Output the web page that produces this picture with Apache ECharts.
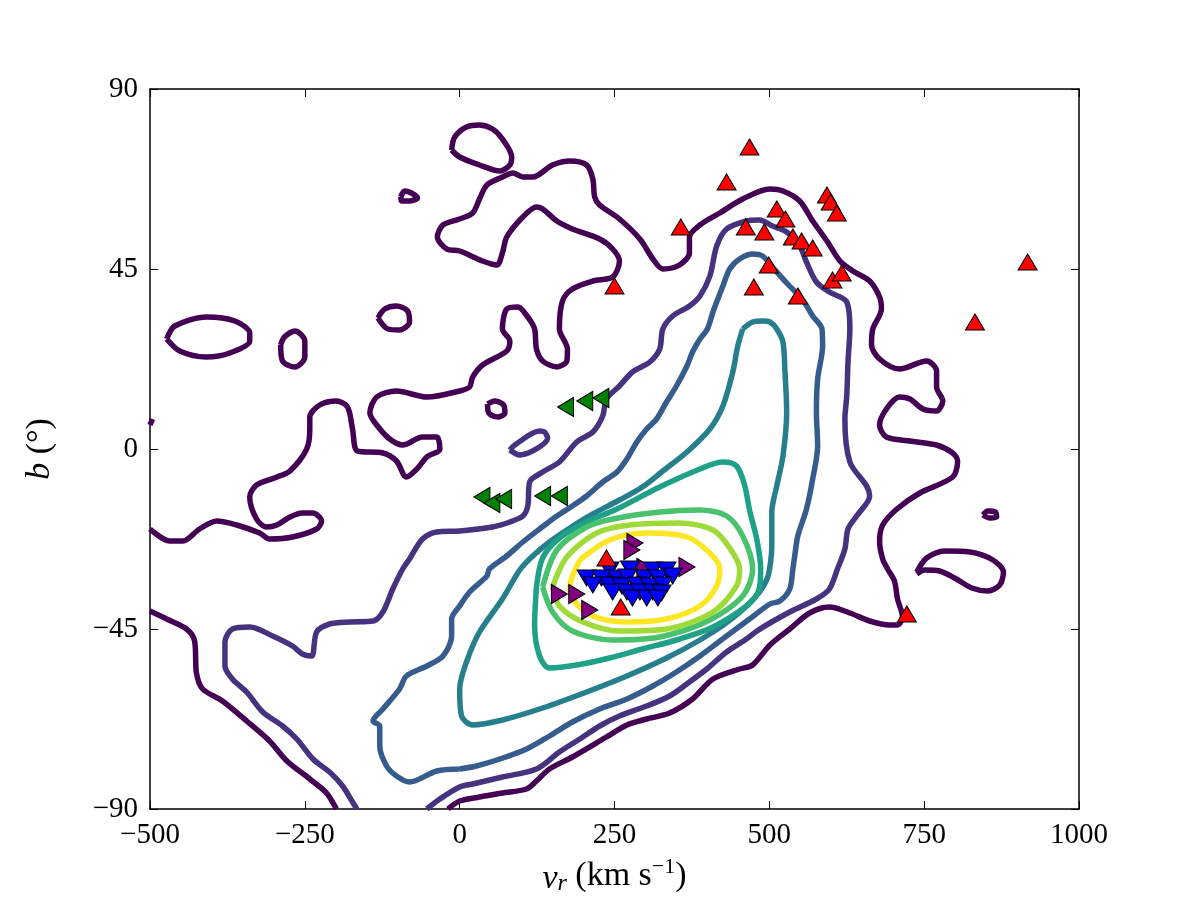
<!DOCTYPE html>
<html>
<head>
<meta charset="utf-8">
<script src="https://cdn.jsdelivr.net/npm/echarts@6/dist/echarts.min.js"></script>
<style>html,body{margin:0;background:#fff}#chart{width:1200px;height:900px}</style>
</head>
<body>
<div id="chart"></div>
<script>
// contour lines, points are [v_r, b]
var lvl1Main = [[-500,-20],[-468,-23],[-447,-23],[-420,-20],[-392,-18],[-360,-19],[-323,-21],[-307,-22.5],[-270,-22],[-231,-20],[-223,-18],[-237,-16],[-254,-16],[-274,-17],[-295,-19],[-312,-19.5],[-328,-17.5],[-339,-12],[-328,-9],[-295,-7],[-274,-5.5],[-247,0],[-242,5],[-242,8],[-226,11],[-199,12],[-181,10.5],[-173,5],[-165,-0.5],[-124,-1],[-102,-3],[-86,-7],[-69,-5],[-53,-2],[-32,0],[-37,3],[-60,3],[-92,1],[-113,2.5],[-134,6],[-145,9],[-134,13],[-102,14.5],[-53,13],[0,14.5],[16,15.5],[21,18],[37,21],[76,24.5],[81,27],[69,30],[76,35],[94,35.5],[110,33],[121,30],[124,25],[134,22],[157,20.5],[173,22],[174,25],[161,30],[166,37],[182,40],[215,42],[247,43],[258,47],[247,50],[226,52.5],[182,55],[157,57],[134,60],[124,60.5],[102,58],[76,53],[69,49],[60,46],[37,47],[0,49.5],[-21,50],[-36,53],[-27,56],[0,57.5],[21,59],[32,62.5],[44,66],[69,68],[86,69],[102,68],[118,68],[150,71],[178,72],[205,71],[215,67.5],[218,63],[226,61],[258,57.5],[291,52.5],[312,47.5],[328,45],[355,46],[371,49],[371,53],[388,56],[420,59],[457,62.5],[501,65],[522,64.5],[549,62],[570,57],[593,52],[614,47],[635,44.5],[662,42],[678,38],[681,35],[667,30],[665,26],[678,22.5],[710,20],[754,22],[770,19.5],[770,15.5],[780,12],[770,9.5],[748,10],[727,12.5],[710,13],[689,10],[678,6],[689,3],[727,2],[770,1],[796,-1],[804,-3],[796,-7],[743,-11],[706,-15],[683,-19],[678,-23],[683,-27.5],[691,-30],[702,-33],[707,-37.5],[715,-42],[707,-44],[694,-44],[662,-43],[630,-41],[597,-39.5],[565,-41],[533,-45],[501,-49],[473,-54],[452,-55],[409,-57.5],[376,-62.5],[339,-66],[302,-67.5],[270,-69],[237,-72],[182,-77],[145,-80],[124,-83],[108,-85],[69,-86],[32,-87],[0,-88],[-19,-90]];
var lvl1Lower = [[-500,-40.5],[-473,-42.5],[-441,-45],[-428,-48],[-425,-56],[-415,-60],[-383,-63],[-344,-68],[-307,-73],[-279,-78],[-242,-82.5],[-215,-86],[-199,-90]];
var lvl1LoopTop = [[-13,74.75],[-8,78],[11,80.5],[32,81],[53,80],[69,77.5],[84,73],[81,71],[65,69.5],[32,71],[0,73],[-13,74.75]];
var lvl1LoopTiny = [[-95,63],[-89,64.5],[-78,64],[-68,62.75],[-81,62],[-94,62],[-95,63]];
var lvl1LoopLeft = [[-473,27.5],[-460,30.75],[-409,33],[-363,32],[-339,29],[-339,27],[-371,24],[-409,23],[-452,24.5],[-473,27.5]];
var lvl1LoopSmall = [[-289,26],[-283,28],[-266,29.5],[-250,27],[-250,23],[-266,20.5],[-286,22],[-289,26]];
var lvl1LoopMid = [[-132,32.75],[-121,35],[-102,35.75],[-84,34.5],[-81,31.75],[-97,29.75],[-116,30],[-132,32.75]];
var lvl1LoopDot = [[45,11.25],[57,12],[71,11],[73,9],[61,8],[47,9],[45,11.25]];
var lvl1LoopRight = [[738,-30.75],[754,-27.25],[783,-25.5],[824,-25.75],[861,-27.75],[878,-30.75],[872,-34],[853,-35.5],[827,-34.75],[799,-32.25],[775,-30.5],[751,-30.25],[738,-31.25]];
var lvl1Blob = [[845,-16.5],[853,-15.5],[865,-15.75],[867,-17],[856,-17.25],[845,-16.5]];
var lvl1Edge = [[-500,6],[-496,7.5]];
var lvl2Main = [[-166,-90],[-173,-88.25],[-189,-84.25],[-210,-80.75],[-237,-77.5],[-263,-72.5],[-286,-69.25],[-318,-65.75],[-344,-60.75],[-367,-57.5],[-379,-54.25],[-379,-48.25],[-367,-45],[-339,-44.5],[-302,-46.75],[-270,-49.25],[-254,-51.25],[-239,-51.75],[-231,-45.75],[-210,-43.75],[-178,-43.25],[-140,-43],[-124,-40.75],[-108,-35],[-92,-30],[-81,-27.5],[-60,-22.5],[-37,-20.75],[0,-20.5],[53,-19.5],[81,-18.25],[102,-16.75],[110,-14.25],[113,-8.25],[134,-5.75],[161,-3.25],[189,1.75],[215,4.25],[231,8.25],[237,12.5],[258,15.75],[279,19.25],[307,21.75],[323,25],[328,30],[344,33.25],[371,35.75],[388,38.25],[404,43.25],[415,50.75],[431,55],[463,57],[484,57.25],[505,55.75],[528,54.25],[549,50.75],[560,46.75],[576,41.75],[597,39.25],[625,36.75],[630,30],[627,21.75],[625,13.25],[622,7.5],[630,-3.25],[657,-9.25],[662,-11.75],[641,-16.75],[627,-20],[622,-25],[610,-30],[597,-35],[576,-37.5],[533,-40.75],[501,-43.5],[480,-45.5],[463,-47.5],[431,-50.75],[399,-55],[371,-58.25],[339,-61.75],[302,-64.25],[258,-66.75],[226,-69.25],[194,-72.5],[161,-75.75],[124,-80],[69,-82],[21,-83.75],[0,-84.5],[-32,-87.5],[-53,-90]];
var lvl2Loop = [[81,-0.25],[97,-1.5],[142,2.75],[137,4.25],[129,4.5],[89,1],[81,-0.25]];
var lvl3 = [[0,-80],[-37,-80.5],[-81,-83.25],[-102,-81.75],[-118,-79.25],[-129,-74.25],[-129,-69.25],[-140,-68],[-124,-65],[-97,-60],[-86,-56.75],[-53,-54.25],[-27,-51.75],[-13,-46.75],[-13,-42.5],[0,-39.25],[16,-35.75],[44,-31.75],[48,-30],[76,-26.75],[102,-23.25],[129,-20],[157,-16.75],[182,-14.25],[205,-11.75],[231,-8.25],[254,-5.75],[270,-2.5],[286,1.75],[302,5],[318,7.5],[334,11.75],[350,15.75],[367,20.75],[376,24.25],[388,27.5],[400,30],[409,34.25],[425,40.75],[436,45],[452,47.5],[473,48.75],[489,48.25],[505,45.5],[528,41.5],[554,37.25],[570,33.25],[585,30],[586,25.75],[578,17.5],[576,9.25],[578,0.75],[570,-7.5],[560,-15],[546,-21.75],[541,-26.75],[538,-30],[533,-35],[517,-38],[501,-38.75],[468,-42.5],[431,-46.75],[388,-51.75],[350,-55.75],[312,-59.25],[270,-62.5],[226,-65],[182,-68.25],[145,-71.75],[108,-75],[65,-77.5],[27,-79.25],[0,-80]];
var lvl4 = [[457,30],[473,31.75],[489,32],[501,31.75],[512,30],[522,26.75],[525,20],[528,9.25],[522,-1.75],[512,-9.25],[504,-15.75],[504,-24.25],[502,-28.25],[497,-32.25],[484,-35.75],[460,-39.75],[428,-43.75],[388,-47.75],[334,-52.25],[270,-56.75],[205,-60.75],[134,-64.75],[69,-67.75],[21,-69],[3,-66.75],[0,-60],[11,-53.25],[32,-45.75],[69,-37.5],[97,-30.25],[118,-26.75],[145,-23.25],[178,-19.75],[215,-16.25],[258,-12.75],[295,-9.5],[328,-5.5],[367,-0.75],[404,5],[425,10.75],[441,19.25],[449,25.75],[457,30]];
var lvl5 = [[124,-34.5],[134,-27.25],[161,-22.25],[205,-18.25],[254,-15],[323,-9.5],[388,-5],[425,-3.25],[447,-4.25],[460,-9],[468,-15.25],[480,-22.75],[486,-30],[483,-35.25],[465,-39],[409,-44.5],[350,-47.75],[295,-50],[242,-52.25],[189,-54],[145,-54.75],[129,-51.75],[121,-44],[124,-34.5]];
var lvl6 = [[134,-34.5],[157,-25.25],[205,-19.5],[247,-17.5],[323,-15.75],[388,-15.25],[431,-16.75],[457,-21.75],[473,-30],[457,-36.75],[404,-42.75],[323,-47],[247,-47.75],[182,-45.5],[150,-40.75],[134,-34.5]];
var lvl7 = [[150,-34.5],[173,-27],[221,-21],[275,-19],[355,-18.5],[409,-20.25],[436,-24.75],[452,-30],[447,-34.25],[409,-40.75],[334,-45],[258,-45.5],[199,-43.25],[161,-39.25],[150,-34.5]];
var lvl8 = [[194,-27.75],[242,-22.75],[302,-21],[367,-22],[404,-26],[420,-30],[415,-34.25],[388,-39.25],[334,-42.5],[270,-43.25],[215,-41.75],[182,-37.5],[178,-34.5],[194,-27.75]];

// marker samples
var redUp = [[468,75.5],[431,66.75],[357,55.5],[250,40.75],[462,55.5],[492,54.25],[512,60],[526,57.5],[538,53],[552,52],[570,50.25],[593,63.5],[599,61.75],[609,59],[499,46],[475,40.5],[546,38.25],[602,42.25],[617,44],[917,46.75],[832,31.75],[722,-41.25],[237,-27.25],[260,-39.5]];
var greenLeft = [[171,10.5],[202,12],[228,12.75],[36,-12],[52,-13.5],[71,-12.5],[134,-11.75],[161,-11.75]];
var purpleRight = [[283,-23.5],[278,-25.25],[367,-29.5],[299,-29.75],[161,-36.25],[189,-36.25],[210,-40.25]];
var blueDown = [[242,-30.25],[275,-30],[312,-30.25],[334,-30.25],[205,-32.25],[229,-32.25],[254,-32.25],[271,-32],[299,-32.25],[320,-32.25],[344,-31.75],[215,-34],[242,-34],[262,-34.25],[286,-34],[307,-34.25],[328,-34],[247,-35.75],[270,-35.75],[291,-35.75],[312,-35.75],[326,-36],[279,-37.25],[302,-37.25],[320,-37.25]];

var xTicks = [-500, 1000, 250];
var yTicks = [-90, 90, 45];

var levelColors = ['#440154', '#46327e', '#365c8d', '#277f8e', '#1fa187', '#4ac16d', '#a0da39', '#fde725'];
var contours = [
    [lvl1Main, 0], [lvl1Lower, 0], [lvl1LoopTop, 0], [lvl1LoopTiny, 0], [lvl1LoopLeft, 0],
    [lvl1LoopSmall, 0], [lvl1LoopMid, 0], [lvl1LoopDot, 0], [lvl1LoopRight, 0], [lvl1Blob, 0], [lvl1Edge, 0],
    [lvl2Main, 1], [lvl2Loop, 1], [lvl3, 2], [lvl4, 3], [lvl5, 4], [lvl6, 5], [lvl7, 6], [lvl8, 7]
];

var font = "'Liberation Serif', 'DejaVu Serif', serif";
var minus = function (v) { return String(v).replace('-', '\u2212'); };

var series = contours.map(function (c) {
    return {
        type: 'line',
        data: c[0],
        showSymbol: false,
        smooth: 0.3,
        silent: true,
        z: 2,
        lineStyle: { color: levelColors[c[1]], width: 5.5 }
    };
});

function markers(data, color, rot, z) {
    return {
        type: 'scatter',
        data: data,
        symbol: 'triangle',
        symbolSize: [19, 16],
        symbolRotate: rot,
        z: z,
        itemStyle: { color: color, borderColor: '#000', borderWidth: 1, opacity: 1 }
    };
}
series.push(markers(purpleRight, '#800080', -90, 5));
series.push(markers(blueDown, '#0000ff', 180, 6));
series.push(markers(redUp, '#ff0000', 0, 7));
series.push(markers(greenLeft, '#008000', 90, 7));

function axisBase(pos, labels) {
    return {
        type: 'value',
        position: pos,
        splitLine: { show: false },
        axisLine: { show: true, onZero: false, lineStyle: { color: '#000', width: 1.5 } },
        axisTick: { show: true, inside: true, length: 8, lineStyle: { color: '#000', width: 1 } },
        axisLabel: { show: labels, formatter: minus, fontFamily: font, fontSize: 29, color: '#000', margin: 12 }
    };
}
var xBottom = Object.assign(axisBase('bottom', true), {
    min: xTicks[0], max: xTicks[1], interval: xTicks[2],
    name: '{i|v}{s|r} (km s{p|\u22121})',
    nameLocation: 'middle',
    nameGap: 47,
    nameTextStyle: {
        fontFamily: font, fontSize: 34, color: '#000',
        rich: {
            i: { fontFamily: font, fontSize: 34, fontStyle: 'italic', color: '#000', verticalAlign: 'bottom', lineHeight: 40 },
            s: { fontFamily: font, fontSize: 24, fontStyle: 'italic', color: '#000', verticalAlign: 'bottom', lineHeight: 30 },
            p: { fontFamily: font, fontSize: 22, color: '#000', verticalAlign: 'top', lineHeight: 22 }
        }
    }
});
var xTop = Object.assign(axisBase('top', false), { min: xTicks[0], max: xTicks[1], interval: xTicks[2] });
var yLeft = Object.assign(axisBase('left', true), {
    min: yTicks[0], max: yTicks[1], interval: yTicks[2],
    name: '{i|b} (\u00b0)',
    nameLocation: 'middle',
    nameRotate: 90,
    nameGap: 93,
    nameTextStyle: {
        fontFamily: font, fontSize: 34, color: '#000',
        rich: { i: { fontFamily: font, fontSize: 34, fontStyle: 'italic', color: '#000' } }
    }
});
var yRight = Object.assign(axisBase('right', false), { min: yTicks[0], max: yTicks[1], interval: yTicks[2] });

var chart = echarts.init(document.getElementById('chart'));
chart.setOption({
    animation: false,
    backgroundColor: '#fff',
    grid: { left: 150, right: 121, top: 89, bottom: 91, containLabel: false, outerBoundsMode: 'none' },
    xAxis: [xBottom, xTop],
    yAxis: [yLeft, yRight],
    series: series
});
</script>
</body>
</html>
